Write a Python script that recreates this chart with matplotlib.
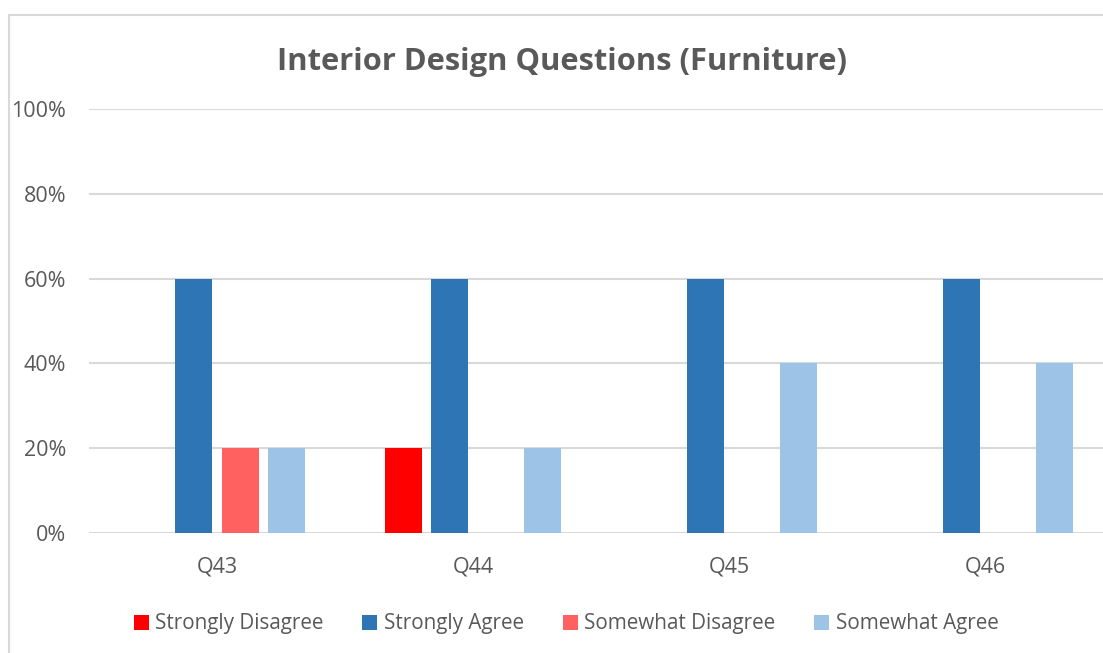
import numpy as np
import matplotlib
matplotlib.use("Agg")
import matplotlib.pyplot as plt
from matplotlib.patches import Rectangle

categories = ["Q43", "Q44", "Q45", "Q46"]
series = ["Strongly Disagree", "Strongly Agree", "Somewhat Disagree", "Somewhat Agree"]
strongly_disagree = [0.0, 0.2, 0.0, 0.0]
strongly_agree = [0.6, 0.6, 0.6, 0.6]
somewhat_disagree = [0.2, 0.0, 0.0, 0.0]
somewhat_agree = [0.2, 0.2, 0.4, 0.4]
values = [strongly_disagree, strongly_agree, somewhat_disagree, somewhat_agree]
colors = ["#FF0000", "#2E75B6", "#FF6161", "#9DC3E6"]

plt.rcParams['font.family'] = ['Open Sans', 'DejaVu Sans']
txt = "#595959"

W, H = 1103, 653
fig = plt.figure(figsize=(W / 100, H / 100), dpi=100)
fig.patch.set_facecolor("white")

# chart border (cropped on right/bottom)
fig.add_artist(Rectangle((9 / W, -0.1), 1.2, (H - 15) / H + 0.1, transform=fig.transFigure,
                         fill=False, edgecolor="#D9D9D9", linewidth=1.5))

ax = fig.add_axes([89 / W, (H - 533) / H, 1024 / W, 424 / H])
x = np.arange(len(categories))
step = 0.1816
width = 0.1445
for i, (name, vals, c) in enumerate(zip(series, values, colors)):
    ax.bar(x + (i - 1.5) * step, vals, width, color=c, label=name, linewidth=0, zorder=3)

ax.set_xlim(-0.5, 3.5)
ax.set_ylim(0, 1.0)
ax.set_yticks(np.arange(0, 1.01, 0.2))
ax.set_yticklabels([f"{int(round(v * 100))}%" for v in np.arange(0, 1.01, 0.2)])
ax.set_xticks(x)
ax.set_xticklabels(categories)
ax.tick_params(axis="both", length=0, labelsize=15.5, colors=txt)
ax.tick_params(axis="y", pad=16.5)
ax.tick_params(axis="x", pad=17)
ax.grid(axis="y", color="#D9D9D9", linewidth=1.5, zorder=0)
for s in ax.spines.values():
    s.set_visible(False)

fig.text(562 / W, (H - 62) / H, "Interior Design Questions (Furniture)", ha="center", va="center",
         fontsize=22.2, fontweight="bold", color=txt)

leg = fig.legend(loc="center", bbox_to_anchor=(566 / W, (H - 624) / H), ncol=4, frameon=False,
                 fontsize=14.9, handlelength=0.72, handleheight=0.72, handletextpad=0.3,
                 columnspacing=1.9, labelcolor=txt)

fig.savefig("out.png", dpi=100)
